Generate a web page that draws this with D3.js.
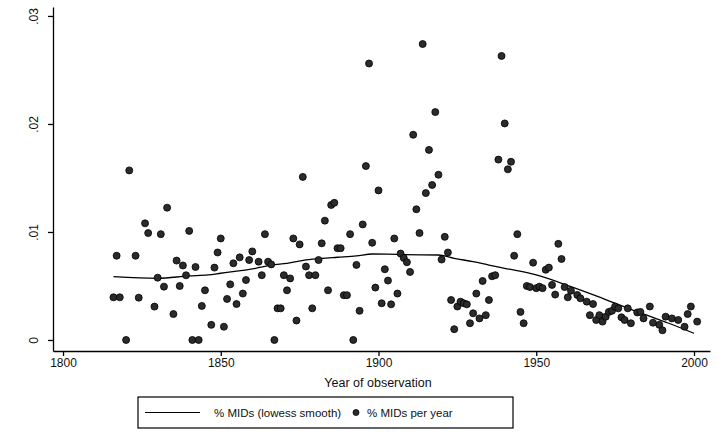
<!DOCTYPE html>
<html>
<head>
<meta charset="utf-8">
<script src="https://cdn.jsdelivr.net/npm/d3@7"></script>
<style>
body { margin: 0; background: #fff; }
text { font-family: "Liberation Sans", Arial, Helvetica, sans-serif; fill: #111; }
</style>
</head>
<body>
<svg width="724" height="437"></svg>
<script>
// yearly share of MIDs
var years = [1816,1817,1818,1820,1821,1823,1824,1826,1827,1829,1830,1831,1832,1833,1835,1836,1837,1838,1839,1840,
  1841,1842,1843,1844,1845,1847,1848,1849,1850,1851,1852,1853,1854,1855,1856,1857,1858,1859,1860,1862,
  1863,1864,1865,1866,1867,1868,1869,1870,1871,1872,1873,1874,1875,1876,1877,1878,1879,1880,1881,1882,
  1883,1884,1885,1886,1887,1888,1889,1890,1891,1892,1893,1894,1895,1896,1897,1898,1899,1900,1901,1902,
  1903,1904,1905,1906,1907,1908,1909,1910,1911,1912,1913,1914,1915,1916,1917,1918,1919,1920,1921,1922,
  1923,1924,1925,1926,1927,1928,1929,1930,1931,1932,1933,1934,1935,1936,1937,1938,1939,1940,1941,1942,
  1943,1944,1945,1946,1947,1948,1949,1950,1951,1952,1953,1954,1955,1956,1957,1958,1959,1960,1961,1963,
  1964,1966,1967,1968,1969,1970,1971,1972,1973,1974,1975,1976,1977,1978,1979,1980,1982,1983,1984,1986,
  1987,1989,1990,1991,1993,1995,1997,1998,1999,2001];
var mids = [3.95,7.8,3.95,0,15.7,7.8,3.92,10.8,9.9,3.09,5.77,9.8,4.94,12.25,2.4,7.35,5.0,6.9,5.99,10.1,
  0,6.76,0,3.15,4.6,1.4,6.7,8.1,9.4,1.23,3.8,5.15,7.1,3.33,7.65,4.3,5.55,7.4,8.2,7.25,
  6.0,9.8,7.25,7.0,0,2.93,2.93,6.0,4.6,5.7,9.4,1.8,8.85,15.1,6.8,6.0,2.93,6.0,7.4,8.95,
  11.05,4.6,12.5,12.7,8.5,8.5,4.15,4.15,9.8,0,6.95,2.7,10.7,16.1,25.6,9.0,4.85,13.85,3.4,6.55,
  5.5,3.3,9.4,4.3,8.0,7.6,7.2,6.3,19.0,12.1,9.9,27.4,13.6,17.6,14.35,21.1,15.3,7.45,9.55,8.1,
  3.7,1.0,3.1,3.55,3.4,3.3,1.55,2.47,4.3,2.0,5.46,2.3,3.7,5.9,6.0,16.7,26.3,20.05,15.8,16.5,
  7.8,9.8,2.6,1.55,5.0,4.9,7.16,4.8,4.94,4.8,6.5,6.7,5.1,4.2,8.9,7.5,4.9,3.95,4.56,4.17,
  3.86,3.55,2.3,3.33,1.85,2.3,1.7,2.15,2.6,2.7,3.1,2.93,2.1,1.85,2.93,1.55,2.55,2.6,2.0,3.1,
  1.6,1.4,0.9,2.16,2.0,1.85,1.23,2.4,3.1,1.7].map(function(v) { return v / 1000; });

// lowess smooth
var smoothYears = [1816,1830,1840,1846,1850,1861,1866,1871,1877,1882,1887,1893,1898,1903,1908,1919,1924,1930,1935,1940,1950,1961,1971,1982,1992,2000];
var smoothMids = [5.86,5.71,5.93,6.02,6.18,6.64,6.94,7.1,7.41,7.56,7.66,7.78,7.96,7.95,7.9,7.87,7.56,7.25,6.94,6.64,6.02,4.94,3.86,2.62,1.55,0.62].map(function(v) { return v / 1000; });

var xTicks = [1800, 1850, 1900, 1950, 2000];
var yTicks = [0, 0.01, 0.02, 0.03];
var yTickLabels = ["0", ".01", ".02", ".03"];

var svg = d3.select("svg");

var x = d3.scaleLinear().domain([1796.83, 2005.07]).range([53, 710]);
var y = d3.scaleLinear().domain([-0.00102, 0.03083]).range([351, 7]);

var xAxis = svg.append("g")
    .attr("transform", "translate(0,351)")
    .call(d3.axisBottom(x).tickValues(xTicks).tickSize(5).tickSizeOuter(0).tickFormat(d3.format("d")));
xAxis.selectAll("text").style("font-size", "12px").attr("y", 7);

var yAxis = svg.append("g")
    .attr("transform", "translate(53,0)")
    .call(d3.axisLeft(y).tickValues(yTicks).tickSize(5).tickSizeOuter(0)
      .tickFormat(function(d, i) { return yTickLabels[i]; }));
yAxis.selectAll("text")
    .style("font-size", "12px")
    .attr("transform", "rotate(-90)")
    .attr("x", 0)
    .attr("y", -15)
    .attr("dy", 0)
    .attr("text-anchor", "middle");

svg.selectAll(".domain, .tick line").attr("stroke", "#000").attr("stroke-width", 1.3);

// lowess line
var line = d3.line()
    .x(function(d) { return x(d[0]); })
    .y(function(d) { return y(d[1]); })
    .curve(d3.curveMonotoneX);

svg.append("path")
    .datum(d3.zip(smoothYears, smoothMids))
    .attr("fill", "none")
    .attr("stroke", "#000")
    .attr("stroke-width", 1.3)
    .attr("d", line);

svg.append("g")
  .selectAll("circle")
  .data(d3.zip(years, mids))
  .enter().append("circle")
    .attr("cx", function(d) { return x(d[0]); })
    .attr("cy", function(d) { return y(d[1]); })
    .attr("r", 3.5)
    .attr("fill", "#2b2b2b")
    .attr("stroke", "#000")
    .attr("stroke-width", 0.8);

svg.append("text")
    .attr("x", 378)
    .attr("y", 387)
    .attr("text-anchor", "middle")
    .style("font-size", "12.5px")
    .text("Year of observation");

// legend
var lg = svg.append("g");
lg.append("rect")
    .attr("x", 138).attr("y", 397)
    .attr("width", 375).attr("height", 31)
    .attr("fill", "none").attr("stroke", "#000").attr("stroke-width", 1.2);
lg.append("line")
    .attr("x1", 145).attr("x2", 200)
    .attr("y1", 412.5).attr("y2", 412.5)
    .attr("stroke", "#000").attr("stroke-width", 1.2);
lg.append("text")
    .attr("x", 214).attr("y", 416.5)
    .style("font-size", "11.5px")
    .text("% MIDs (lowess smooth)");
lg.append("circle")
    .attr("cx", 356).attr("cy", 412.5).attr("r", 3)
    .attr("fill", "#2b2b2b").attr("stroke", "#000").attr("stroke-width", 0.8);
lg.append("text")
    .attr("x", 367).attr("y", 416.5)
    .style("font-size", "11.5px")
    .text("% MIDs per year");
</script>
</body>
</html>
